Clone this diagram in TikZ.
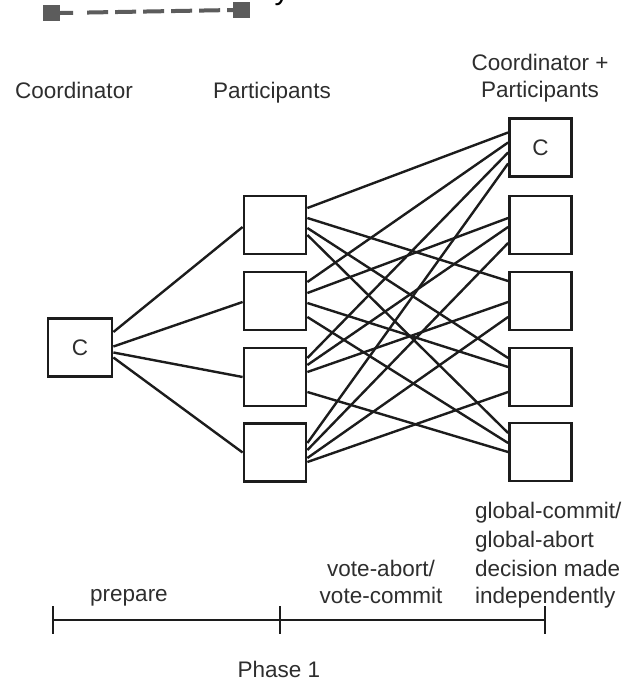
\documentclass[tikz,border=0pt]{standalone}
\usepackage{fontspec}
\setmainfont{Liberation Sans}
\usetikzlibrary{calc}
\definecolor{linecol}{HTML}{1C1C1C}
\definecolor{txtcol}{HTML}{2E2E2E}
\definecolor{markcol}{HTML}{5C5C5C}
\begin{document}
\begin{tikzpicture}[x=1pt,y=-1pt,
  txt/.style={font=\fontsize{22.5}{27}\selectfont, text=txtcol, inner sep=0pt},
  box/.style={txt, draw=linecol, line width=2.8pt, fill=white,
    minimum width=62pt, minimum height=58pt},
  link/.style={draw=linecol, line width=2.4pt},
  axis/.style={draw=linecol, line width=2.8pt},
  marker/.style={fill=markcol, draw=none, minimum width=17pt, minimum height=16pt, inner sep=0pt},
  handle/.style={draw=markcol, line width=4pt,
    dash pattern=on 13pt off 14pt on 21pt off 7pt on 21pt off 7pt on 21pt off 7pt
      on 21pt off 7pt on 21pt off 7pt on 6pt}]
\useasboundingbox (0,0) rectangle (630,683);
\clip (0,0) rectangle (630,683);
\fill[white] (0,0) rectangle (630,683);

% connector handle at the top
\node[marker] (hl) at (51.5,13) {};
\node[marker] (hr) at (241.5,10) {};
\draw[handle] (hl.east) -- (hr.west);
\node[anchor=base, inner sep=0pt, font=\fontsize{30}{30}\selectfont] (ycut) at (282,-1) {y};

% column headings (multi-line nodes are placed by their last baseline)
\node[txt, anchor=base] (hCoord) at (74,98) {Coordinator};
\node[txt, anchor=base] (hPart) at (272,98) {Participants};
\node[txt, anchor=base, align=center] (hBoth) at (540,97) {Coordinator +\\Participants};

% coordinator
\node[box, minimum width=64pt] (C) at (80,347.5) {C};

% participants
\node[box] (P1) at (275,225) {};
\node[box] (P2) at (275,301) {};
\node[box] (P3) at (275,377) {};
\node[box] (P4) at (275,452.5) {};

% coordinator + participants
\node[box] (R0) at (540.5,147.5) {C};
\node[box] (R1) at (540.5,225) {};
\node[box] (R2) at (540.5,301) {};
\node[box] (R3) at (540.5,377) {};
\node[box] (R4) at (540.5,452) {};

% prepare messages
\foreach \dst/\sy/\dy in {P1/-15.5/2, P2/-1/1, P3/5/0, P4/10/0}
  \draw[link] ($(C.east)+(0,\sy)$) -- ($(\dst.west)+(0,\dy)$);

% votes sent to everyone else
\foreach \src/\sy/\dst/\dy in {
  P1/-17/R0/-15, P1/-7/R2/-20, P1/3/R3/-19, P1/10/R4/-19,
  P2/-19/R0/-5, P2/-8/R1/-7, P2/2/R3/-10, P2/16/R4/-9,
  P3/-19/R0/5, P3/-12/R1/2, P3/-5/R2/1, P3/15/R4/0,
  P4/-9.5/R0/16, P4/-2.5/R1/18, P4/5.5/R2/16, P4/9.5/R3/15}
  \draw[link] ($(\src.east)+(0,\sy)$) -- ($(\dst.west)+(0,\dy)$);

% time line
\coordinate (t0) at (53,620);
\coordinate (t1) at (280,620);
\coordinate (t2) at (545,620);
\draw[axis] (t0) -- (t2);
\foreach \t in {t0,t1,t2}
  \draw[axis] ($(\t)+(0,-14)$) -- ($(\t)+(0,14)$);

\node[txt, anchor=base] (lPrep) at (129,601) {prepare};
\node[txt, anchor=base, align=center] (lVote) at (381,603) {vote-abort/\\vote-commit};
\node[txt, anchor=base west, align=left] (lDec) at (475,603)
  {global-commit/\\[2pt]global-abort\\[2pt]decision made\\independently};
\node[txt, anchor=base] (lPhase) at (279,677) {Phase 1};
\end{tikzpicture}
\end{document}
